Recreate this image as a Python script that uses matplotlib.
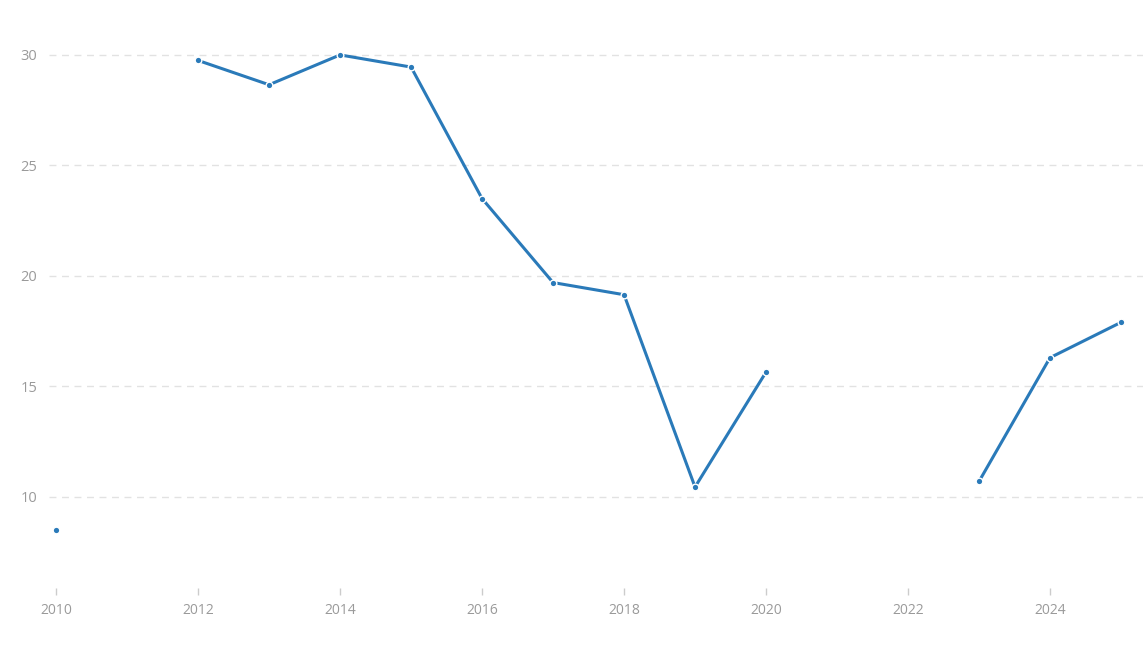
import matplotlib.pyplot as plt
import numpy as np

years = [2010, 2011, 2012, 2013, 2014, 2015, 2016, 2017, 2018, 2019, 2020, 2021, 2022, 2023, 2024, 2025]
values = [8.5, np.nan, 29.75, 28.65, 30.0, 29.45, 23.5, 19.7, 19.15, 10.45, 15.65, np.nan, np.nan, 10.7, 16.3, 17.9]
x_ticks = [2010, 2012, 2014, 2016, 2018, 2020, 2022, 2024]
y_ticks = [10, 15, 20, 25, 30]

plt.rcParams['font.family'] = ['Open Sans', 'DejaVu Sans']

W, H = 1147, 651
fig = plt.figure(figsize=(W / 100, H / 100), dpi=100)
left, right, top, bottom = 49, 1143, 20, 588
ax = fig.add_axes([left / W, 1 - bottom / H, (right - left) / W, (bottom - top) / H])

color = '#2a7ab9'
ax.plot(years, values, color=color, lw=2.2, marker='o', ms=4.8,
        markerfacecolor=color, markeredgecolor='white', markeredgewidth=1.0,
        solid_capstyle='butt', zorder=3)

ax.set_xlim(2009.9, 2025.31)
ax.set_ylim(5.88, 31.58)
ax.set_xticks(x_ticks)
ax.set_yticks(y_ticks)
ax.set_xticklabels([str(t) for t in x_ticks])

ax.grid(axis='y', color='#e2e2e2', linestyle=(0, (5, 4)), linewidth=1)
ax.grid(axis='x', visible=False)
for s in ax.spines.values():
    s.set_visible(False)

ax.tick_params(axis='x', colors='#cccccc', length=5, width=1, labelcolor='#9a9a9a',
               labelsize=10, pad=6)
ax.tick_params(axis='y', length=0, labelcolor='#9a9a9a', labelsize=10.5, pad=8.5)

fig.savefig('out.png', dpi=100, facecolor='white')
